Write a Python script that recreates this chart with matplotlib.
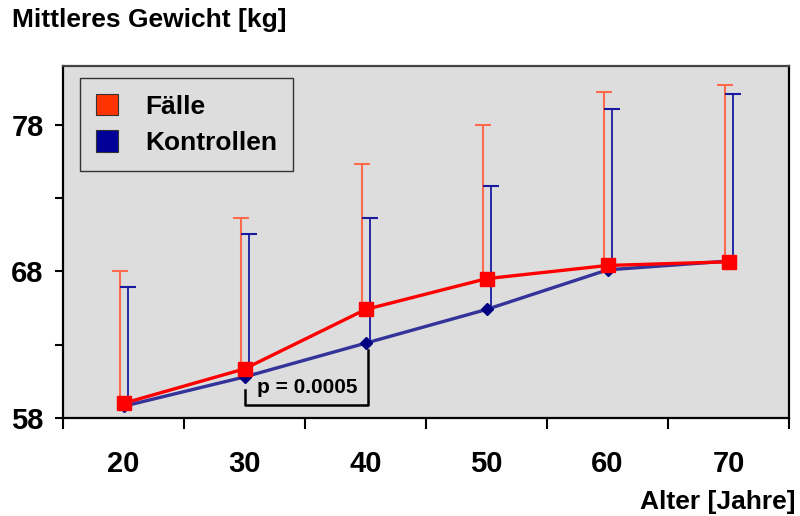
import matplotlib
matplotlib.use("Agg")
import matplotlib.pyplot as plt
from matplotlib.patches import Patch
from matplotlib import font_manager

plt.rcParams['font.family'] = ['Liberation Sans', 'DejaVu Sans']
plt.rcParams['font.weight'] = 'bold'

ages = ["20", "30", "40", "50", "60", "70"]
faelle_mean = [59.0, 61.35, 65.4, 67.5, 68.4, 68.65]
faelle_upper = [68.0, 71.65, 75.35, 78.0, 80.2, 80.7]
kontrollen_mean = [58.8, 60.8, 63.1, 65.4, 68.1, 68.7]
kontrollen_upper = [66.9, 70.55, 71.65, 73.8, 79.1, 80.1]
y_major = [58, 68, 78]
y_minor = [63, 73]
p_text = "p = 0.0005"

names = {f.name for f in font_manager.fontManager.ttflist}
if 'Liberation Sans Narrow' in names:
    tick_family, tick_size = ['Liberation Sans Narrow', 'Liberation Sans'], 23
else:
    tick_family, tick_size = ['Liberation Sans', 'DejaVu Sans'], 21

fig = plt.figure(figsize=(8, 5.16), dpi=100)
ax = fig.add_axes([63/800, (516-418)/516, (789-63)/800, (418-66)/516])
ax.set_facecolor('#DDDDDD')

x = list(range(len(ages)))
xr = [v - 0.025 for v in x]
xb = [v + 0.04 for v in x]

# error bars (upper only)
ax.vlines(xr, faelle_mean, faelle_upper, color='#FF6A4D', lw=1.5, zorder=2)
ax.plot(xr, faelle_upper, ls='none', marker='_', ms=12, mew=1.5, color='#FF6A4D', zorder=2)
ax.vlines(xb, kontrollen_mean, kontrollen_upper, color='#1A1AA0', lw=1.3, zorder=2)
ax.plot(xb, kontrollen_upper, ls='none', marker='_', ms=12, mew=1.5, color='#1A1AA0', zorder=2)

ax.plot(x, kontrollen_mean, color='#333399', lw=2.4, marker='D', ms=6.5,
        mfc='#000080', mec='#000080', zorder=3)
ax.plot(x, faelle_mean, color='#FF0000', lw=2.4, marker='s', ms=9.5,
        mfc='#FF0000', mec='#FF0000', zorder=4)

# p-value bracket
ax.plot([1, 1, 2.02, 2.02], [59.9, 58.9, 58.9, 62.65], color='black', lw=1.8, zorder=5)
ax.text(1.52, 60.05, p_text, ha='center', va='center', fontsize=15, fontweight='bold', zorder=6)

ax.set_xlim(-0.5, 5.5)
ax.set_ylim(58, 82)

ax.set_xticks([v - 0.5 for v in range(len(ages) + 1)])
ax.set_xticklabels([])
ax.set_xticks(x, minor=True)
ax.set_xticklabels(ages, minor=True, fontsize=tick_size, fontweight='bold', family=tick_family)
ax.tick_params(axis='x', which='major', length=8, width=1.5, direction='out')
ax.tick_params(axis='x', which='minor', length=0, pad=23)

ax.set_yticks(y_major)
ax.set_yticklabels([str(v) for v in y_major], fontsize=tick_size, fontweight='bold', family=tick_family)
ax.set_yticks(y_minor, minor=True)
ax.tick_params(axis='y', which='both', length=6, width=1.5, direction='out', pad=8)

for s in ['left', 'bottom', 'right']:
    ax.spines[s].set_linewidth(1.6)
    ax.spines[s].set_color('black')
ax.spines['top'].set_linewidth(1.6)
ax.spines['top'].set_color('#444444')

handles = [Patch(facecolor='#FF3300', edgecolor='#333333', lw=0.8),
           Patch(facecolor='#000099', edgecolor='#333333', lw=0.8)]
leg = ax.legend(handles, ['Fälle', 'Kontrollen'], loc='upper left',
                bbox_to_anchor=(0.023, 0.966), prop={'size': 19, 'weight': 'bold'},
                handlelength=0.87, handleheight=0.87, handletextpad=1.0,
                labelspacing=0.45, borderpad=0.6, borderaxespad=0,
                fancybox=False, facecolor='#DDDDDD', edgecolor='#333333', framealpha=1)
leg.get_frame().set_linewidth(1.0)

fig.text(12/800, 1 - 20/516, 'Mittleres Gewicht [kg]', ha='left', va='center',
         fontsize=19, fontweight='bold')
fig.text(795/800, 1 - 502/516, 'Alter [Jahre]', ha='right', va='center',
         fontsize=19, fontweight='bold')

fig.savefig('out.png', dpi=100, facecolor='white')
